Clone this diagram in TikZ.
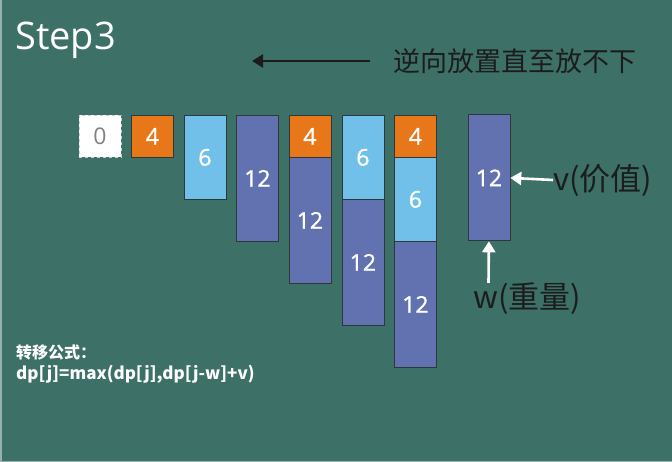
\documentclass[tikz,border=0pt]{standalone}
\usepackage{fontspec}
\setmainfont{Open Sans}
\newfontfamily\cjk{Noto Sans CJK SC}
\newfontfamily\digits[FakeBold=1.2]{Open Sans}
\usetikzlibrary{arrows.meta}
\definecolor{bg}{RGB}{61,113,104}
\definecolor{edgeline}{RGB}{150,178,172}
\definecolor{orangebox}{RGB}{232,119,26}
\definecolor{lightbox}{RGB}{112,192,234}
\definecolor{darkbox}{RGB}{98,114,176}
\definecolor{boxline}{RGB}{45,55,60}
\definecolor{ink}{RGB}{28,28,28}
\definecolor{zerotext}{RGB}{130,130,130}
\tikzset{
  x=1pt, y=-1pt,
  cell/.style={draw=boxline, line width=0.8pt, anchor=north west, minimum width=42pt,
    inner sep=0pt, text=white, font=\digits\fontsize{23}{25}\selectfont},
  wone/.style={cell, fill=orangebox, minimum height=42pt},
  wtwo/.style={cell, fill=lightbox, minimum height=84pt},
  wthree/.style={cell, fill=darkbox, minimum height=126pt},
  zerobox/.style={cell, fill=white, draw=gray!40, dashed, minimum height=42pt, text=zerotext,
    font=\fontsize{23}{25}\selectfont},
  bigarrow/.style={line width=2.6pt, -{Triangle[length=11pt,width=13pt]}},
  note/.style={anchor=west, text=ink, inner sep=0pt, font=\cjk\fontsize{27}{30}\selectfont},
  labeltext/.style={note, font=\cjk\fontsize{31}{33}\selectfont},
  formula/.style={anchor=west, text=white, inner sep=0pt, font=\cjk\bfseries\fontsize{16}{18}\selectfont},
}
\begin{document}
\begin{tikzpicture}
\fill[bg] (0,0) rectangle (672,462);
\useasboundingbox (0,0) rectangle (672,462);
\draw[edgeline, line width=1.5pt] (0.75,0) -- (0.75,461.25) -- (672,461.25);

\node[anchor=west, text=white, inner sep=0pt, font=\fontsize{38}{40}\selectfont] (title) at (15,40) {Step3};

% direction arrow and note
\node[note] (dirtext) at (393,61) {逆向放置直至放不下};
\coordinate (dirstart) at (370,61);
\coordinate (dirend) at (252,61);
\draw[bigarrow, ink] (dirstart) -- (dirend);

% columns
\node[zerobox] (c0) at (78.5,115) {0};
\node[wone] (c1) at (131,115) {4};
\node[wtwo] (c2) at (183.5,115) {6};
\node[wthree] (c3) at (236,115) {12};

\node[wone] (c4a) at (288.5,115) {4};
\node[wthree] (c4b) at (288.5,157) {12};

\node[wtwo] (c5a) at (341.5,115) {6};
\node[wthree] (c5b) at (341.5,199) {12};

\node[wone] (c6a) at (394,115) {4};
\node[wtwo] (c6b) at (394,157) {6};
\node[wthree] (c6c) at (394,241) {12};

% item
\node[wthree] (item) at (467.5,114.5) {12};

\node[labeltext] (vtext) at (553,180) {v(价值)};
\draw[bigarrow, white] (vtext.west) -- (item.east);

\node[labeltext] (wtext) at (473,299) {w(重量)};
\coordinate (wstart) at (488.5,283);
\draw[bigarrow, white] (wstart) -- (item.south);

% formula
\node[formula] (f1) at (16,352) {转移公式：};
\node[formula, font=\cjk\bfseries\fontsize{17}{19}\selectfont] (f2) at (16,374) {dp[j]=max(dp[j],dp[j-w]+v)};
\end{tikzpicture}
\end{document}
